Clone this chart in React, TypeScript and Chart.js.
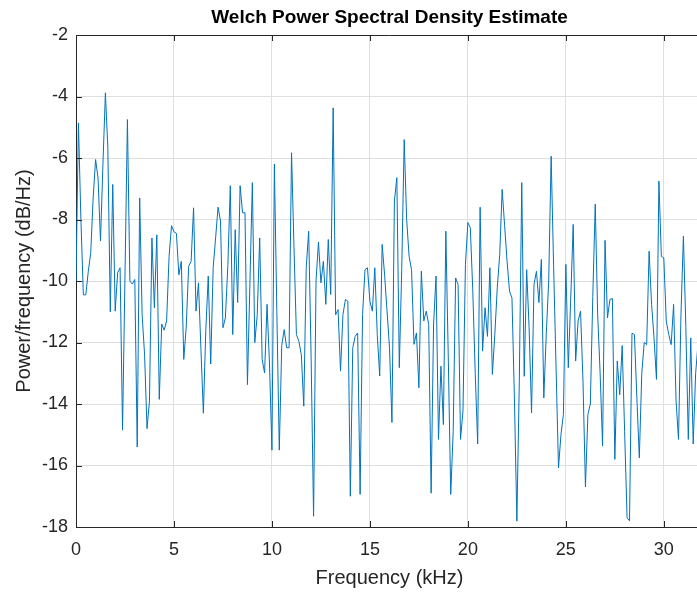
import { useEffect, useRef } from 'react';
import { Chart, registerables } from 'chart.js';

Chart.register(...registerables);

const chartTitle = 'Welch Power Spectral Density Estimate';
const xAxisLabel = 'Frequency (kHz)';
const yAxisLabel = 'Power/frequency (dB/Hz)';

const binWidthKHz = 0.125;

const psdDb: number[] = [
  -10.0, -4.86, -8.0, -10.45, -10.45, -9.7, -9.1, -7.3, -6.05, -6.65,
  -8.7, -6.2, -3.88, -5.67, -11.0, -6.86, -10.98, -9.73, -9.57, -14.85,
  -9.8, -4.75, -10.0, -10.1, -9.95, -15.4, -7.3, -11.1, -12.4, -14.8,
  -13.9, -8.6, -10.87, -8.5, -13.85, -11.4, -11.6, -11.3, -9.2, -8.2,
  -8.4, -8.45, -9.8, -9.36, -12.55, -11.5, -9.52, -9.36, -7.62, -10.98,
  -10.06, -12.2, -14.3, -11.6, -9.84, -12.7, -9.57, -8.6, -7.6, -8.05,
  -11.52, -11.2, -9.5, -6.9, -11.74, -8.33, -10.7, -6.9, -7.78, -7.78,
  -13.37, -10.1, -6.8, -12.0, -11.1, -8.6, -12.55, -12.99, -10.76, -12.7,
  -15.5, -6.2, -11.0, -15.5, -12.1, -11.58, -12.17, -12.17, -5.83, -8.9,
  -11.74, -11.96, -12.4, -14.07, -9.57, -8.38, -12.5, -17.65, -10.0, -8.73,
  -10.06, -9.36, -10.76, -8.65, -10.44, -4.37, -11.1, -10.93, -12.93, -11.09,
  -10.6, -10.66, -17.0, -12.17, -11.8, -11.69, -16.94, -11.09, -9.63, -9.57,
  -10.66, -10.98, -9.57, -11.74, -13.09, -8.81, -9.8, -10.98, -12.17, -14.6,
  -7.4, -6.64, -12.82, -9.6, -5.4, -8.0, -9.2, -9.63, -12.06, -11.69,
  -13.47, -9.68, -11.3, -10.98, -11.41, -16.9, -11.4, -9.84, -15.15, -12.77,
  -14.67, -8.38, -12.5, -16.94, -14.9, -9.9, -10.11, -15.15, -14.23, -9.46,
  -8.1, -8.27, -10.3, -13.0, -15.3, -7.6, -12.28, -10.87, -11.8, -9.57,
  -13.04, -11.74, -10.22, -9.14, -7.02, -8.2, -9.36, -10.33, -10.55, -13.8,
  -17.81, -13.26, -6.8, -13.1, -9.63, -11.52, -14.29, -10.11, -9.68, -10.7,
  -9.3, -13.8, -11.74, -10.0, -5.94, -9.5, -12.8, -16.08, -15.0, -14.34,
  -9.46, -12.82, -10.55, -8.16, -12.6, -11.3, -10.98, -13.26, -16.7, -14.34,
  -14.0, -10.5, -7.5, -11.1, -13.0, -15.37, -8.68, -11.2, -10.6, -10.57,
  -15.8, -12.6, -13.7, -12.1, -14.9, -17.7, -17.8, -11.7, -11.74, -13.8,
  -15.75, -13.0, -12.0, -12.07, -9.03, -10.76, -11.85, -13.2, -6.75, -9.2,
  -9.25, -11.3, -11.74, -12.07, -10.76, -13.9, -15.15, -11.1, -8.54, -11.52,
  -15.15, -11.85, -15.3, -13.0, -12.0,
];

const frequencyKHz: number[] = psdDb.map((_, i) => i * binWidthKHz);

const xTickStep = 5;
const yTickStep = 2;

const FONT = "'Liberation Sans', Arial, Helvetica, sans-serif";
const AXIS_COLOR = '#262626';
const GRID_COLOR = '#dfdfdf';
const LINE_COLOR = '#0072BD';

const boxPlugin = {
  id: 'matlabBox',
  afterDraw(chart: any) {
    const { ctx, chartArea } = chart;
    const { left, right, top, bottom } = chartArea;
    const xs = chart.scales.x;
    const ys = chart.scales.y;
    const tl = 6;
    ctx.save();
    ctx.strokeStyle = AXIS_COLOR;
    ctx.lineWidth = 1;
    ctx.beginPath();
    ctx.moveTo(left, top + 0.5);
    ctx.lineTo(right, top + 0.5);
    ctx.moveTo(right - 0.5, top);
    ctx.lineTo(right - 0.5, bottom);
    xs.ticks.forEach((t: any) => {
      const px = Math.round(xs.getPixelForValue(t.value)) + 0.5;
      ctx.moveTo(px, bottom);
      ctx.lineTo(px, bottom - tl);
      ctx.moveTo(px, top);
      ctx.lineTo(px, top + tl);
    });
    ys.ticks.forEach((t: any) => {
      const py = Math.round(ys.getPixelForValue(t.value)) + 0.5;
      ctx.moveTo(left, py);
      ctx.lineTo(left + tl, py);
      ctx.moveTo(right, py);
      ctx.lineTo(right - tl, py);
    });
    ctx.stroke();
    ctx.restore();
  },
};

export default function App() {
  const canvasRef = useRef<HTMLCanvasElement | null>(null);

  useEffect(() => {
    document.body.style.margin = '0';
    document.body.style.overflow = 'hidden';
    const canvas = canvasRef.current;
    if (!canvas) return;
    Chart.defaults.font.family = FONT;

    const chart = new Chart(canvas, {
      type: 'line',
      data: {
        datasets: [
          {
            data: frequencyKHz.map((f, i) => ({ x: f, y: psdDb[i] })),
            borderColor: LINE_COLOR,
            borderWidth: 1,
            pointRadius: 0,
            tension: 0,
            fill: false,
          },
        ],
      },
      options: {
        responsive: false,
        animation: false,
        devicePixelRatio: 1,
        layout: { padding: { left: 0, right: 17, top: 0, bottom: 0 } },
        plugins: {
          legend: { display: false },
          tooltip: { enabled: false },
          title: {
            display: true,
            text: chartTitle,
            fullSize: false,
            color: '#000000',
            font: { family: FONT, size: 19, weight: 'bold' },
            padding: { top: 6, bottom: 6.2 },
          },
        },
        scales: {
          x: {
            type: 'linear',
            min: 0,
            max: 32,
            ticks: {
              stepSize: xTickStep,
              includeBounds: false,
              color: AXIS_COLOR,
              font: { family: FONT, size: 18 },
              padding: 12,
              maxRotation: 0,
            },
            grid: { color: GRID_COLOR, drawTicks: false },
            border: { display: true, color: AXIS_COLOR, width: 1 },
            title: {
              display: true,
              text: xAxisLabel,
              color: AXIS_COLOR,
              font: { family: FONT, size: 20 },
              padding: { top: 0, bottom: 2 },
            },
            afterFit: (s: any) => {
              s.height = 65;
            },
          },
          y: {
            type: 'linear',
            min: -18,
            max: -2,
            ticks: {
              stepSize: yTickStep,
              color: AXIS_COLOR,
              font: { family: FONT, size: 18 },
              padding: 8,
            },
            grid: { color: GRID_COLOR, drawTicks: false },
            border: { display: true, color: AXIS_COLOR, width: 1 },
            title: {
              display: true,
              text: yAxisLabel,
              color: AXIS_COLOR,
              font: { family: FONT, size: 20 },
              padding: { top: 12, bottom: 0 },
            },
            afterFit: (s: any) => {
              s.width = 76;
            },
          },
        },
      },
      plugins: [boxPlugin],
    });

    return () => chart.destroy();
  }, []);

  return (
    <div style={{ width: 697, height: 592, overflow: 'hidden', position: 'relative' }}>
      <canvas ref={canvasRef} width={720} height={592} style={{ display: 'block' }} />
    </div>
  );
}
